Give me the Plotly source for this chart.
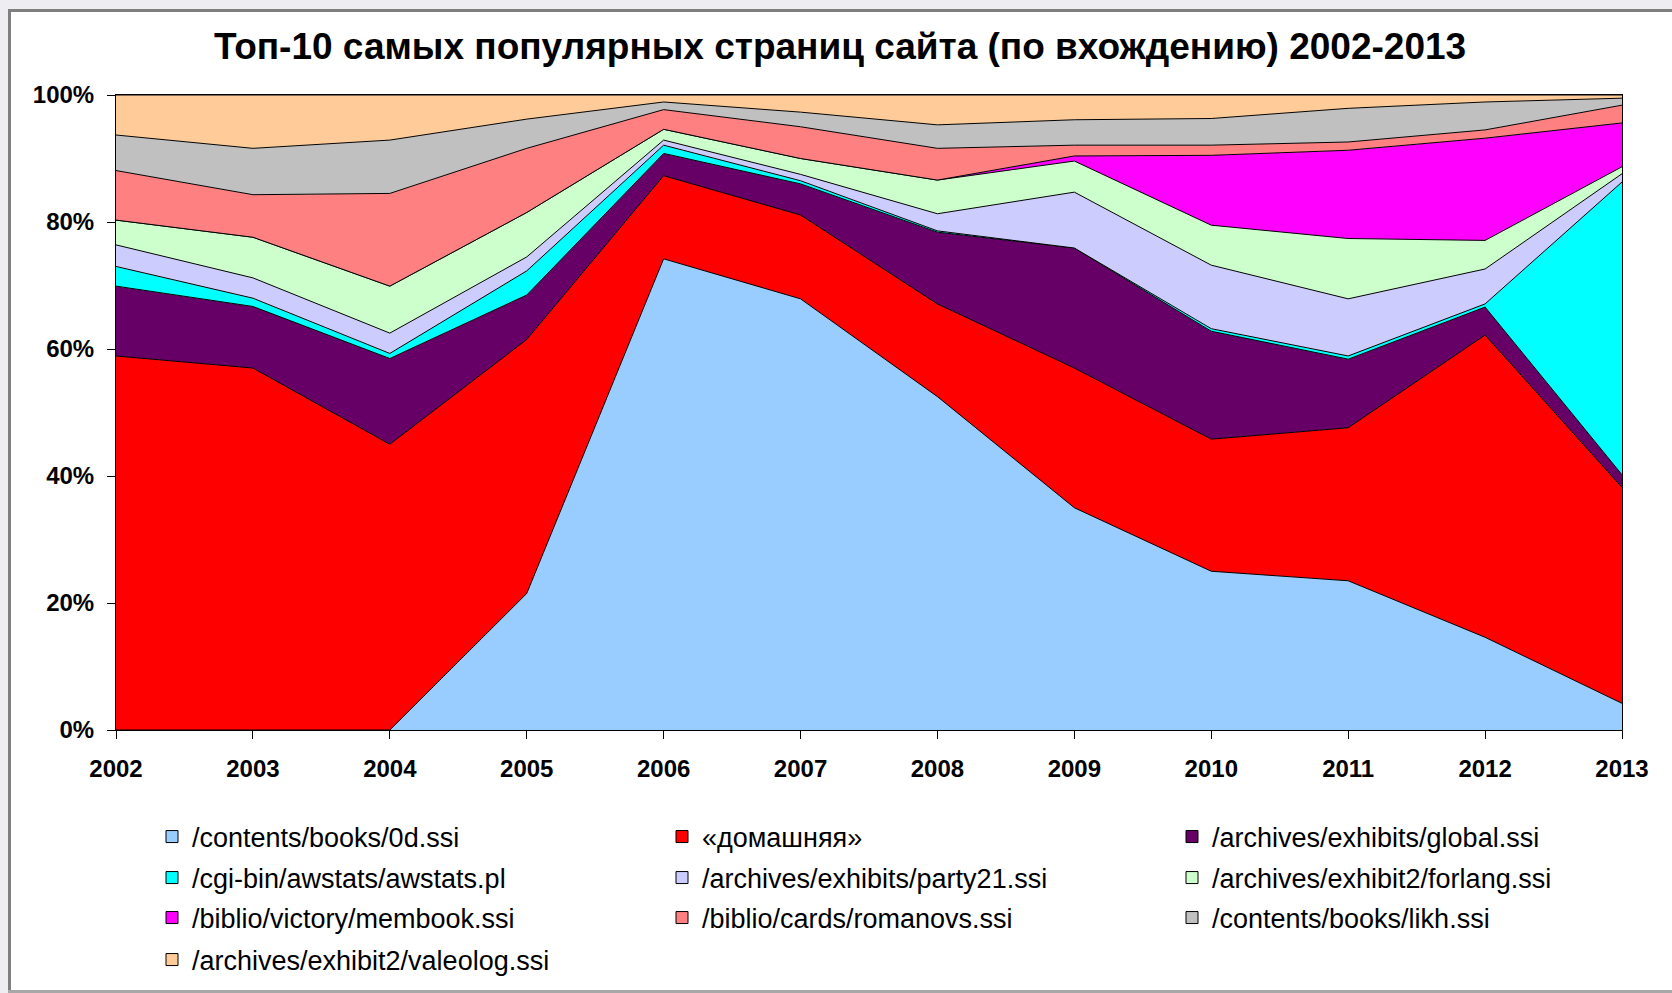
import plotly.graph_objects as go

# ---------------- data (shares of each page, % per year) ----------------
years = [2002, 2003, 2004, 2005, 2006, 2007, 2008, 2009, 2010, 2011, 2012, 2013]
year_labels = [str(y) for y in years]

contents_0d = [0, 0, 0, 21.5, 74.2, 67.9, 52.5, 35.0, 25.0, 23.5, 14.6, 4.2]
domashnyaya = [58.9, 57.0, 45.0, 40.0, 13.1, 13.2, 14.6, 22.0, 20.8, 24.1, 47.6, 34.0]
global_ssi = [11.0, 9.7, 13.5, 7.0, 3.5, 4.9, 11.3, 18.9, 17.0, 10.8, 4.4, 2.0]
awstats = [3.1, 1.3, 0.8, 3.8, 1.3, 0.5, 0.2, 0.0, 0.4, 0.5, 0.5, 46.1]
party21 = [3.4, 3.2, 3.2, 2.2, 0.8, 1.0, 2.7, 8.8, 10.0, 9.0, 5.5, 1.3]
forlang = [3.9, 6.4, 7.4, 7.0, 1.7, 2.5, 5.3, 4.9, 6.3, 9.5, 4.5, 1.1]
membook = [0, 0, 0, 0, 0, 0, 0, 0.8, 11.0, 13.9, 16.1, 6.9]
romanovs = [7.8, 6.7, 14.6, 10.1, 3.1, 5.0, 5.0, 1.7, 1.6, 1.3, 1.3, 2.8]
likh = [5.6, 7.3, 8.4, 4.6, 1.2, 2.3, 3.7, 4.0, 4.2, 5.3, 4.4, 1.1]
valeolog = [6.3, 8.4, 7.1, 3.8, 1.1, 2.7, 4.7, 3.9, 3.7, 2.1, 1.1, 0.5]

series_names = [
    "/contents/books/0d.ssi",
    "«домашняя»",
    "/archives/exhibits/global.ssi",
    "/cgi-bin/awstats/awstats.pl",
    "/archives/exhibits/party21.ssi",
    "/archives/exhibit2/forlang.ssi",
    "/biblio/victory/membook.ssi",
    "/biblio/cards/romanovs.ssi",
    "/contents/books/likh.ssi",
    "/archives/exhibit2/valeolog.ssi",
]
series_values = [contents_0d, domashnyaya, global_ssi, awstats, party21,
                 forlang, membook, romanovs, likh, valeolog]
series_colors = ["#99CCFF", "#FF0000", "#660066", "#00FFFF", "#CCCCFF",
                 "#CCFFCC", "#FF00FF", "#FF8080", "#C0C0C0", "#FFCC99"]

y_ticks = [0, 20, 40, 60, 80, 100]
y_tick_labels = ["0%", "20%", "40%", "60%", "80%", "100%"]

title_text = "Топ-10 самых популярных страниц сайта (по вхождению) 2002-2013"

# ---------------- layout geometry (pixels) ----------------
W, H = 1672, 993
PL, PR, PT, PB = 116, 1622, 95, 730  # plot area edges


def fx(px):
    return (px - PL) / (PR - PL)


def fy(py):
    return (PB - py) / (PB - PT)


FONT = "Liberation Sans, Arial, sans-serif"

fig = go.Figure()

# stacked areas
for name, vals, col in zip(series_names, series_values, series_colors):
    fig.add_trace(go.Scatter(
        x=years, y=vals, name=name, mode="lines",
        stackgroup="one", fillcolor=col,
        line=dict(color="black", width=1),
        showlegend=False, hoverinfo="x+y+name",
    ))

# legend entries (square keys), one legend per row
row_y = [837, 878, 918, 960]
for i, (name, col) in enumerate(zip(series_names, series_colors)):
    row = i // 3
    col_idx = i % 3
    lg = "legend" if row == 0 else f"legend{row + 1}"
    kw = {}
    if col_idx == 2:
        kw["legendwidth"] = 380
    fig.add_trace(go.Scatter(
        x=[None], y=[None], mode="markers", name=name,
        marker=dict(symbol="square", size=12, color=col,
                    line=dict(color="black", width=1)),
        legend=lg, showlegend=True, **kw,
    ))

legend_common = dict(
    orientation="h", xanchor="left", yanchor="middle", traceorder="normal",
    x=fx(152), entrywidth=465, entrywidthmode="pixels",
    font=dict(family=FONT, size=27, color="black"),
    bgcolor="rgba(0,0,0,0)", borderwidth=0, itemclick=False,
)
legends = {}
for r, py in enumerate(row_y):
    key = "legend" if r == 0 else f"legend{r + 1}"
    legends[key] = dict(legend_common, y=fy(py))

# frame (screenshot border)
shapes = [
    dict(type="rect", xref="paper", yref="paper", x0=fx(0), x1=fx(W), y0=fy(0), y1=fy(9),
         fillcolor="#EEEEF2", line=dict(width=0), layer="above"),
    dict(type="rect", xref="paper", yref="paper", x0=fx(0), x1=fx(8), y0=fy(0), y1=fy(H),
         fillcolor="#EEEEF2", line=dict(width=0), layer="above"),
    dict(type="line", xref="paper", yref="paper", x0=fx(8), x1=fx(W), y0=fy(10.5), y1=fy(10.5),
         line=dict(color="#7F7F7F", width=3), layer="above"),
    dict(type="line", xref="paper", yref="paper", x0=fx(9.5), x1=fx(9.5), y0=fy(9), y1=fy(H),
         line=dict(color="#7F7F7F", width=3), layer="above"),
    dict(type="line", xref="paper", yref="paper", x0=fx(8), x1=fx(W), y0=fy(991.5), y1=fy(991.5),
         line=dict(color="#A8A8A8", width=3), layer="above"),
]

fig.update_layout(
    width=W, height=H,
    margin=dict(l=PL, r=W - PR, t=PT, b=H - PB, autoexpand=False),
    paper_bgcolor="white", plot_bgcolor="white",
    title=dict(text=title_text, x=840 / W, xref="container", xanchor="center",
               y=1 - 46 / H, yref="container", yanchor="middle",
               font=dict(family=FONT, size=37, color="black", weight="bold")),
    xaxis=dict(range=[years[0], years[-1]], tickvals=years, ticktext=year_labels,
               showline=True, linecolor="black", linewidth=1, mirror=True,
               ticks="outside", ticklen=8, tickcolor="black", tickwidth=1,
               showgrid=False, zeroline=False, ticklabelstandoff=9,
               tickfont=dict(family=FONT, size=24, color="black", weight="bold")),
    yaxis=dict(range=[0, 100], tickvals=y_ticks, ticktext=y_tick_labels,
               showline=True, linecolor="black", linewidth=1, mirror=True,
               ticks="outside", ticklen=8, tickcolor="black", tickwidth=1,
               showgrid=False, zeroline=False, ticklabelstandoff=8,
               tickfont=dict(family=FONT, size=24, color="black", weight="bold")),
    shapes=shapes,
    **legends,
)

fig.write_html(
    "out.html",
    config={"displayModeBar": False},
    post_script="document.body.style.margin='0';document.body.style.overflow='hidden';",
)
